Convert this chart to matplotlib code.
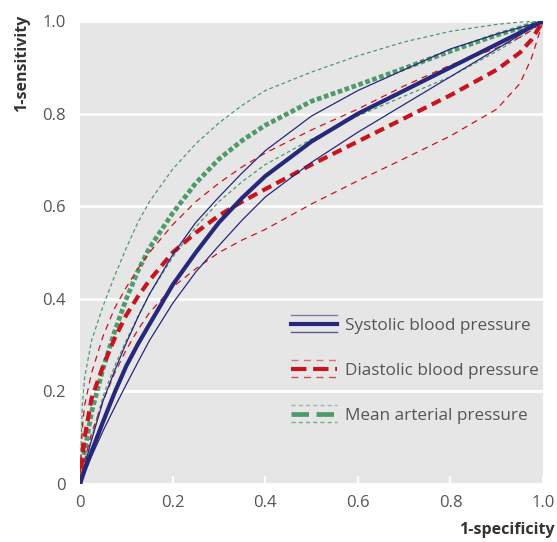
import matplotlib
matplotlib.use("Agg")
import matplotlib.pyplot as plt
from matplotlib.lines import Line2D
from matplotlib.legend_handler import HandlerBase

fpr = [0, 0.005, 0.01, 0.025, 0.05, 0.075, 0.1, 0.125, 0.15, 0.2, 0.25, 0.3, 0.35, 0.4,
       0.5, 0.6, 0.7, 0.8, 0.9, 0.95, 0.975, 1.0]

# systolic blood pressure: estimate, upper and lower bound
sbp = [0, 0.015, 0.03, 0.07, 0.135, 0.198, 0.255, 0.302, 0.345, 0.43, 0.50, 0.565, 0.618, 0.665,
       0.74, 0.80, 0.85, 0.90, 0.95, 0.975, 0.988, 1.0]
sbp_hi = [0, 0.02, 0.04, 0.095, 0.18, 0.245, 0.305, 0.36, 0.41, 0.495, 0.565, 0.62, 0.672, 0.72,
          0.795, 0.85, 0.895, 0.94, 0.972, 0.986, 0.993, 1.0]
sbp_lo = [0, 0.012, 0.025, 0.06, 0.115, 0.166, 0.215, 0.263, 0.31, 0.39, 0.458, 0.515, 0.57, 0.62,
          0.695, 0.76, 0.82, 0.88, 0.94, 0.97, 0.985, 1.0]

# diastolic blood pressure
dbp = [0, 0.055, 0.1, 0.185, 0.255, 0.315, 0.365, 0.405, 0.44, 0.50, 0.543, 0.58, 0.61, 0.637,
       0.69, 0.74, 0.79, 0.84, 0.895, 0.932, 0.96, 1.0]
dbp_hi = [0, 0.12, 0.17, 0.24, 0.32, 0.38, 0.425, 0.465, 0.50, 0.56, 0.61, 0.65, 0.685, 0.715,
          0.765, 0.81, 0.86, 0.905, 0.942, 0.965, 0.98, 1.0]
dbp_lo = [0, 0.03, 0.05, 0.11, 0.18, 0.24, 0.29, 0.333, 0.37, 0.425, 0.465, 0.50, 0.527, 0.55,
          0.605, 0.655, 0.703, 0.752, 0.81, 0.865, 0.92, 1.0]

# mean arterial pressure
mapr = [0, 0.04, 0.07, 0.155, 0.25, 0.33, 0.40, 0.46, 0.51, 0.585, 0.65, 0.702, 0.742, 0.775,
        0.827, 0.862, 0.898, 0.935, 0.97, 0.985, 0.993, 1.0]
map_hi = [0, 0.17, 0.23, 0.31, 0.385, 0.45, 0.51, 0.565, 0.61, 0.68, 0.735, 0.78, 0.818, 0.85,
          0.89, 0.925, 0.955, 0.978, 0.993, 0.998, 0.999, 1.0]
map_lo = [0, 0.02, 0.04, 0.10, 0.19, 0.255, 0.31, 0.362, 0.41, 0.49, 0.555, 0.61, 0.653, 0.69,
          0.745, 0.795, 0.838, 0.88, 0.935, 0.965, 0.982, 1.0]

labels = ["Systolic blood pressure", "Diastolic blood pressure", "Mean arterial pressure"]
ticks = [0, 0.2, 0.4, 0.6, 0.8, 1.0]
tick_labels = ["0", "0.2", "0.4", "0.6", "0.8", "1.0"]

BLUE = "#27277c"
RED = "#c8141f"
GREEN = "#4f9a6b"

plt.rcParams["font.family"] = ["Open Sans", "DejaVu Sans"]


class TripleLine(HandlerBase):
    # legend key: thick line with a thin line above and below
    def create_artists(self, legend, orig_handle, xdescent, ydescent,
                       width, height, fontsize, trans):
        y = height / 2 - ydescent
        out = []
        thin_ls = orig_handle.thin_ls
        for dy, lw, a, ls in [(height * 0.72, 1.0, 0.55, thin_ls),
                              (0, orig_handle.get_linewidth(), 1.0, orig_handle.get_linestyle()),
                              (-height * 0.72, 1.0, 0.75, thin_ls)]:
            ln = Line2D([-xdescent, width - xdescent], [y + dy, y + dy],
                        color=orig_handle.get_color(), lw=lw, alpha=a, transform=trans)
            ln.set_linestyle(ls)
            out.append(ln)
        return out


fig = plt.figure(figsize=(5.57, 5.42), dpi=100)
ax = fig.add_axes([0.1436, 0.107, 0.8314, 0.854])
ax.set_facecolor("#e6e6e6")

styles = [
    (sbp, sbp_lo, sbp_hi, BLUE, "-", "-", 3.0),
    (dbp, dbp_lo, dbp_hi, RED, (0, (2.4, 1.4)), (0, (5, 4)), 3.0),
    (mapr, map_lo, map_hi, GREEN, (0, (1.0, 0.55)), (0, (3, 2.2)), 3.4),
]
handles = []
for est, lo, hi, col, ls_main, ls_thin, lw in styles[::-1]:
    ax.plot(fpr, lo, color=col, lw=0.9, ls=ls_thin)
    ax.plot(fpr, hi, color=col, lw=0.9, ls=ls_thin)
    h, = ax.plot(fpr, est, color=col, lw=lw, ls=ls_main)
    h.thin_ls = ls_thin
    handles.append(h)
handles = handles[::-1]

ax.set_xlim(0, 1)
ax.set_ylim(0, 1)
ax.set_xticks(ticks)
ax.set_xticklabels(tick_labels)
ax.set_yticks(ticks)
ax.set_yticklabels(tick_labels)
for s in ax.spines.values():
    s.set_visible(False)
ax.grid(axis="y", color="white", lw=2)
ax.set_axisbelow(True)
ax.tick_params(axis="x", direction="in", color="white", length=6, width=1.5,
               labelsize=12, labelcolor="#555555", pad=8)
ax.tick_params(axis="y", length=0, labelsize=12, labelcolor="#555555", pad=10)

ax.set_xlabel("1-specificity", fontsize=11.5, fontweight="bold", color="#333333",
              ha="right")
ax.xaxis.set_label_coords(1.026, -0.083)
ax.set_ylabel("1-sensitivity", fontsize=11.5, fontweight="bold", color="#333333",
              ha="right")
ax.yaxis.set_label_coords(-0.108, 1.013)

hm = {h: TripleLine() for h in handles}
leg = ax.legend(handles, labels, handler_map=hm, loc="center left",
                bbox_to_anchor=(0.455, 0.245), frameon=False, fontsize=12.3,
                labelspacing=1.7, handlelength=2.7, handletextpad=0.45,
                borderpad=0, borderaxespad=0)
for t in leg.get_texts():
    t.set_color("#555555")

fig.savefig("out.png", dpi=100)
